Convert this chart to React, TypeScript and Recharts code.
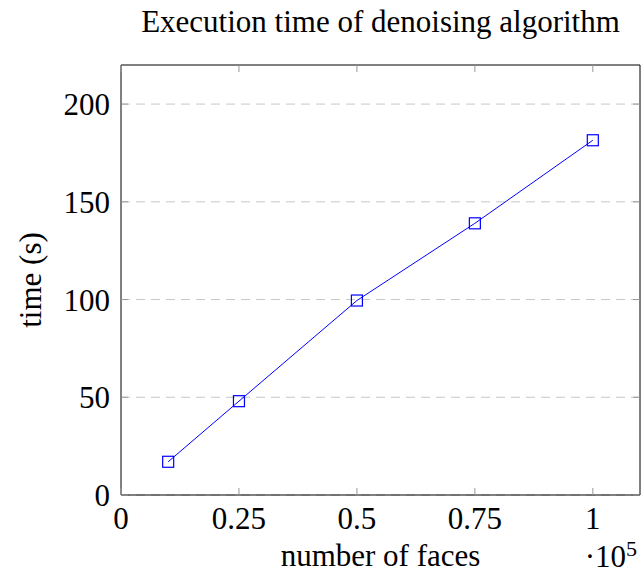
import { CartesianGrid, Label, Line, LineChart, XAxis, YAxis } from "recharts";

const faces = [0.1, 0.25, 0.5, 0.75, 1];
const times = [17, 48, 99.5, 139, 181.5];
const xTicks = [0, 0.25, 0.5, 0.75, 1];
const yTicks = [0, 50, 100, 150, 200];

const data = faces.map((f, i) => ({ faces: f, time: times[i] }));

const font = "'Liberation Serif', 'DejaVu Serif', serif";
const fontSize = 31;
const tickColor = "#999999";
const blue = "#0000ff";
const txt = { fontFamily: font, fontSize };

function BottomTick(props: any) {
  const { x, y, payload } = props;
  return (
    <g>
      <line x1={x} y1={y} x2={x} y2={y - 7} stroke={tickColor} />
      <text x={x} y={y + 34} textAnchor="middle" style={txt} fill="#000">
        {payload.value}
      </text>
    </g>
  );
}

function TopTick(props: any) {
  const { x, y } = props;
  return <line x1={x} y1={y} x2={x} y2={y + 7} stroke={tickColor} />;
}

function LeftTick(props: any) {
  const { x, y, payload } = props;
  return (
    <g>
      <line x1={x} y1={y} x2={x + 7} y2={y} stroke={tickColor} />
      <text x={x - 11} y={y + 11} textAnchor="end" style={txt} fill="#000">
        {payload.value}
      </text>
    </g>
  );
}

function RightTick(props: any) {
  const { x, y } = props;
  return <line x1={x} y1={y} x2={x - 7} y2={y} stroke={tickColor} />;
}

function SquareDot(props: any) {
  const { cx, cy, index } = props;
  if (cx == null || cy == null) return null;
  return (
    <rect key={index} x={cx - 5.5} y={cy - 5.5} width={11} height={11} fill="none" stroke={blue} strokeWidth={1.2} />
  );
}

function XTitle({ viewBox }: any) {
  return (
    <g>
      <text x={viewBox.x + viewBox.width / 2} y={viewBox.y + 71} textAnchor="middle" style={txt} fill="#000">
        number of faces
      </text>
      <text x={viewBox.x + viewBox.width - 3} y={viewBox.y + 72} textAnchor="end" style={txt} fill="#000">
        ·10<tspan dy={-11} style={{ fontSize: 22 }}>5</tspan>
      </text>
    </g>
  );
}

function ChartTitle({ viewBox }: any) {
  return (
    <text
      x={viewBox.x + viewBox.width / 2}
      y={viewBox.y + viewBox.height - 33}
      textAnchor="middle"
      style={txt}
      fill="#000"
    >
      Execution time of denoising algorithm
    </text>
  );
}

function YTitle({ viewBox }: any) {
  const cx = viewBox.x + viewBox.width - 80;
  const cy = viewBox.y + viewBox.height / 2;
  return (
    <text x={cx} y={cy} transform={`rotate(-90 ${cx} ${cy})`} textAnchor="middle" style={txt} fill="#000">
      time (s)
    </text>
  );
}

const axisCommon = {
  tickSize: 0,
  tickMargin: 0,
  tickLine: false,
  axisLine: { stroke: "#000" },
  interval: 0 as const,
  allowDataOverflow: true,
};

export default function App() {
  return (
    <div style={{ position: "absolute", left: 0, top: 0, background: "#fff", fontFamily: font }}>
      <LineChart width={641} height={573} data={data} margin={{ top: 64, right: 0, bottom: 77, left: 120 }}>
        <CartesianGrid vertical={false} horizontalValues={yTicks} stroke="#c8c8c8" strokeDasharray="9 6" />
        <XAxis
          {...axisCommon}
          dataKey="faces"
          type="number"
          domain={[0, 1.1]}
          ticks={xTicks}
          height={1}
          tick={<BottomTick />}
        >
          <Label content={XTitle} />
        </XAxis>
        <XAxis
          {...axisCommon}
          xAxisId="top"
          orientation="top"
          dataKey="faces"
          type="number"
          domain={[0, 1.1]}
          ticks={xTicks}
          height={1}
          tick={<TopTick />}
        >
          <Label content={ChartTitle} />
        </XAxis>
        <YAxis {...axisCommon} type="number" domain={[0, 220]} ticks={yTicks} width={1} tick={<LeftTick />}>
          <Label content={YTitle} />
        </YAxis>
        <YAxis
          {...axisCommon}
          yAxisId="right"
          orientation="right"
          type="number"
          domain={[0, 220]}
          ticks={yTicks}
          width={1}
          tick={<RightTick />}
        />
        <Line
          type="linear"
          dataKey="time"
          stroke={blue}
          strokeWidth={1}
          dot={<SquareDot />}
          activeDot={false}
          isAnimationActive={false}
        />
      </LineChart>
    </div>
  );
}
